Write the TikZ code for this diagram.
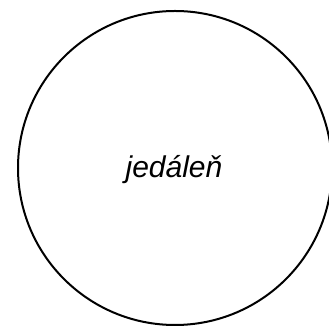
\documentclass[tikz,border=0pt]{standalone}
\usepackage{fontspec}
\setmainfont{Liberation Sans}
\begin{document}
\begin{tikzpicture}[x=1pt,y=1pt,
  entity/.style={draw=black,line width=2pt,circle,minimum size=314pt,inner sep=0pt},
  lbl/.style={font=\fontsize{30}{35}\selectfont\itshape}]
\useasboundingbox (0,0) rectangle (329,328);
\node[entity] (c) at (175,160) {};
\node[lbl] (t) at (174,158) {jedáleň};
\end{tikzpicture}
\end{document}
